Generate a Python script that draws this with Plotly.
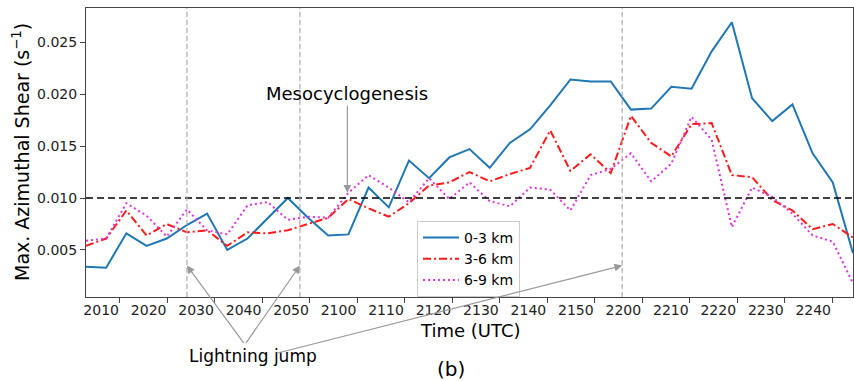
import plotly.graph_objects as go

# Scan times in minutes after 20:00 UTC
times_min = [2.84, 7.09, 11.34, 15.60, 19.85, 24.10, 28.35, 32.60, 36.86, 41.11,
             45.36, 49.61, 53.86, 58.12, 62.37, 66.62, 70.87, 75.12, 79.38, 83.63,
             87.88, 92.13, 96.38, 100.64, 104.89, 109.14, 113.39, 117.64, 121.90, 126.15,
             130.40, 134.65, 138.90, 143.16, 147.41, 151.66, 155.91, 160.16, 164.42]

shear_0_3 = [0.0034, 0.0033, 0.0066, 0.0054, 0.0061, 0.0074, 0.0085, 0.0050, 0.0061, 0.0080,
             0.0100, 0.0081, 0.0064, 0.0065, 0.0110, 0.0091, 0.0136, 0.0119, 0.0139, 0.0147,
             0.0129, 0.0153, 0.0166, 0.0189, 0.0214, 0.0212, 0.0212, 0.0185, 0.0186, 0.0207,
             0.0205, 0.0241, 0.0269, 0.0196, 0.0174, 0.0190, 0.0143, 0.0115, 0.0047]

shear_3_6 = [0.0054, 0.0061, 0.0088, 0.0064, 0.0075, 0.0067, 0.0069, 0.0054, 0.0067, 0.0066,
             0.0069, 0.0075, 0.0081, 0.0099, 0.0090, 0.0082, 0.0095, 0.0112, 0.0115, 0.0125,
             0.0116, 0.0123, 0.0129, 0.0165, 0.0126, 0.0142, 0.0124, 0.0179, 0.0153, 0.0140,
             0.0171, 0.0172, 0.0122, 0.0120, 0.0098, 0.0088, 0.0070, 0.0075, 0.0062]

shear_6_9 = [0.0059, 0.0061, 0.0095, 0.0083, 0.0063, 0.0089, 0.0069, 0.0065, 0.0093, 0.0096,
             0.0079, 0.0082, 0.0081, 0.0105, 0.0122, 0.0110, 0.0096, 0.0119, 0.0099, 0.0115,
             0.0097, 0.0092, 0.0110, 0.0108, 0.0088, 0.0122, 0.0128, 0.0143, 0.0116, 0.0133,
             0.0178, 0.0156, 0.0072, 0.0110, 0.0101, 0.0085, 0.0064, 0.0058, 0.0018]

tick_minutes = [10, 20, 30, 40, 50, 60, 70, 80, 90, 100, 110, 120, 130, 140, 150, 160]
tick_labels = ["2010", "2020", "2030", "2040", "2050", "2100", "2110", "2120",
               "2130", "2140", "2150", "2200", "2210", "2220", "2230", "2240"]
y_ticks = [0.005, 0.010, 0.015, 0.020, 0.025]

threshold = 0.010
lightning_jumps = [24.1, 47.9, 115.8]
mesocyclogenesis_time = 57.9

FONT = "DejaVu Sans"
AX_COLOR = "#444444"

fig = go.Figure()
fig.add_trace(go.Scatter(x=times_min, y=shear_0_3, mode="lines", name="0-3 km",
                         line=dict(color="#1f77b4", width=2)))
fig.add_trace(go.Scatter(x=times_min, y=shear_3_6, mode="lines", name="3-6 km",
                         line=dict(color="#ff1a1a", width=2, dash="8px,3px,2px,3px")))
fig.add_trace(go.Scatter(x=times_min, y=shear_6_9, mode="lines", name="6-9 km",
                         line=dict(color="#dd33dd", width=2, dash="2px,3px")))

shapes = [dict(type="line", xref="paper", yref="y", x0=0, x1=1, y0=threshold, y1=threshold,
               line=dict(color="black", width=1.5, dash="7px,4px"))]
for lj in lightning_jumps:
    shapes.append(dict(type="line", xref="x", yref="paper", x0=lj, x1=lj, y0=0, y1=1,
                       line=dict(color="#aaaaaa", width=1.2, dash="5px,3px")))

def paper_text(text, px, py, size, **kw):
    return dict(text=text, xref="paper", yref="paper", x=(px - 86) / 767, y=(297 - py) / 289,
                xanchor="center", yanchor="middle", showarrow=False,
                font=dict(family=FONT, size=size, color="black"), **kw)

annotations = [
    paper_text("Max. Azimuthal Shear (s<sup>\u22121</sup>)", 21, 152, 19, textangle=-90),
    paper_text("Time (UTC)", 470, 330, 18),
    paper_text("(b)", 451, 369, 20),
    paper_text("Lightning jump", 253, 356, 17),
    dict(text="Mesocyclogenesis", xref="x", yref="y", x=mesocyclogenesis_time, y=0.0105,
         ax=0, ay=-99, showarrow=True, arrowhead=2, arrowsize=1.3, arrowwidth=1.2,
         arrowcolor="#999999", font=dict(family=FONT, size=18, color="black")),
]
arrow_offsets = [(58, 79), (-55, 79), (-347, 88)]
for lj, (ax, ay) in zip(lightning_jumps, arrow_offsets):
    annotations.append(dict(text="", xref="x", yref="y", x=lj, y=0.0035, ax=ax, ay=ay,
                            showarrow=True, arrowhead=2, arrowsize=1.3, arrowwidth=1.2,
                            arrowcolor="#999999"))

axis_common = dict(showline=True, mirror=True, linecolor=AX_COLOR, linewidth=1,
                   ticks="outside", ticklen=5, tickwidth=1, tickcolor=AX_COLOR,
                   showgrid=False, zeroline=False,
                   tickfont=dict(family=FONT, size=14, color="#222222"))

fig.update_layout(
    width=854, height=381,
    margin=dict(l=86, r=1, t=8, b=84, pad=0),
    paper_bgcolor="white", plot_bgcolor="white",
    font=dict(family=FONT, color="black"),
    xaxis=dict(range=[times_min[0], times_min[-1]], tickvals=tick_minutes,
               ticktext=tick_labels, ticklabelposition="outside left", **axis_common),
    yaxis=dict(range=[0.00048, 0.02827], tickvals=y_ticks, tickformat=".3f", **axis_common),
    legend=dict(x=(417 - 86) / 767, y=(297 - 221) / 289, xanchor="left", yanchor="top",
                bgcolor="white", bordercolor="#cccccc", borderwidth=1, itemwidth=36,
                font=dict(family=FONT, size=14, color="black")),
    shapes=shapes,
    annotations=annotations,
)

fig.write_html("out.html")
